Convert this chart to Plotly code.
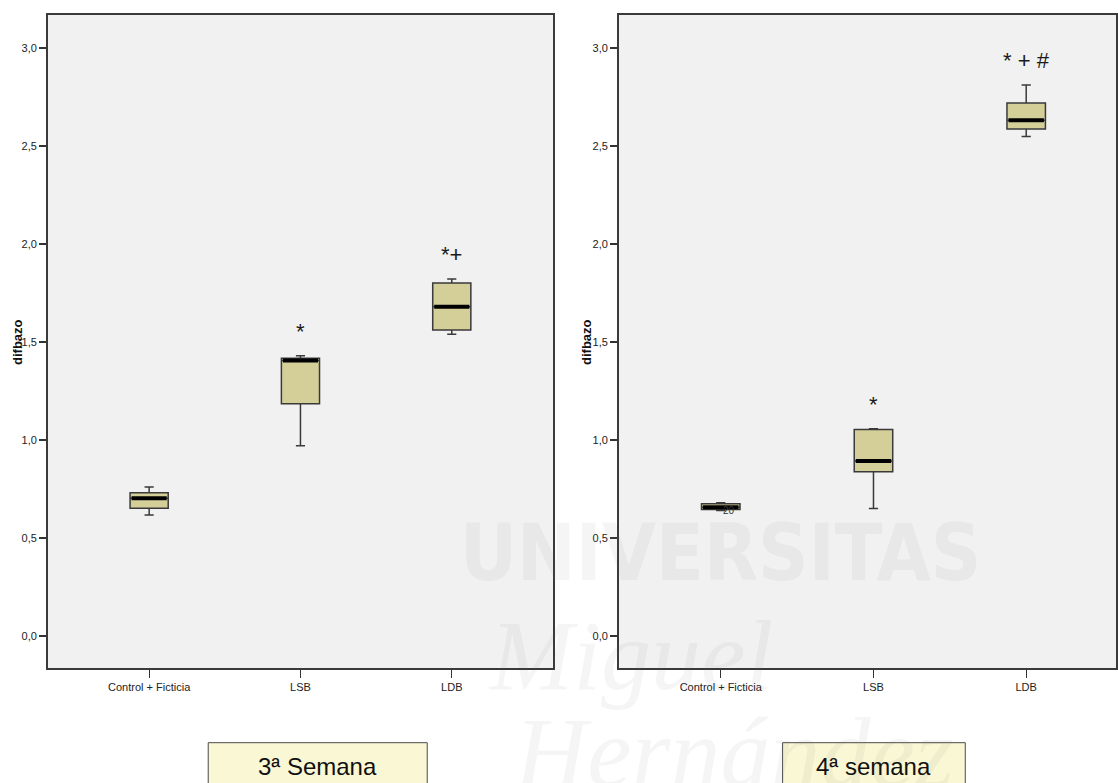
import plotly.graph_objects as go

# Groups on the horizontal axis
categories = ["Control + Ficticia", "LSB", "LDB"]

# 3ª semana: five-number summaries of difbazo per group
w3_low = [0.617, 0.971, 1.539]
w3_q1 = [0.652, 1.185, 1.561]
w3_med = [0.703, 1.405, 1.680]
w3_q3 = [0.731, 1.417, 1.801]
w3_high = [0.760, 1.430, 1.821]
w3_marks = ["", "*", "*+"]

# 4ª semana: five-number summaries of difbazo per group
w4_low = [0.640, 0.651, 2.548]
w4_q1 = [0.645, 0.838, 2.587]
w4_med = [0.657, 0.893, 2.631]
w4_q3 = [0.675, 1.054, 2.719]
w4_high = [0.680, 1.058, 2.811]
w4_marks = ["", "*", "* + #"]

# Case label shown next to the control box in week 4
w4_case_label = "20"
w4_case_value = 0.639

y_ticks = [0.0, 0.5, 1.0, 1.5, 2.0, 2.5, 3.0]

W, H = 1118, 783
BOX_W = 0.252
BOX_FILL = "#d4cf98"
EDGE = "#3a3a3a"
PLOT_BG = "#f0f1f0"
TICK_FONT = dict(family="Liberation Sans Narrow, Arial Narrow, Liberation Sans, Arial, sans-serif",
                 size=11, color="#222222")


def px(v):
    return v / W


def py(v):
    return 1 - v / H


fig = go.Figure()

panels = [
    dict(xa="x", ya="y", low=w3_low, q1=w3_q1, med=w3_med, q3=w3_q3, high=w3_high,
         marks=w3_marks),
    dict(xa="x2", ya="y2", low=w4_low, q1=w4_q1, med=w4_med, q3=w4_q3, high=w4_high,
         marks=w4_marks),
]

for p in panels:
    pos = list(range(len(categories)))
    fig.add_trace(go.Box(
        x=pos, q1=p["q1"], median=p["med"], q3=p["q3"],
        lowerfence=p["low"], upperfence=p["high"],
        width=BOX_W, whiskerwidth=0.24,
        fillcolor=BOX_FILL, line=dict(color=EDGE, width=1.5),
        boxpoints=False, hoverinfo="skip", showlegend=False,
        xaxis=p["xa"], yaxis=p["ya"],
    ))
    # heavy median bars drawn on top of each box
    mx, my = [], []
    for i, m in enumerate(p["med"]):
        mx += [i - BOX_W / 2 + 0.01, i + BOX_W / 2 - 0.01, None]
        my += [m, m, None]
    fig.add_trace(go.Scatter(
        x=mx, y=my, mode="lines", line=dict(color="#000000", width=4),
        hoverinfo="skip", showlegend=False, xaxis=p["xa"], yaxis=p["ya"],
    ))
    # significance marks above the upper whiskers
    for i, txt in enumerate(p["marks"]):
        if not txt:
            continue
        fig.add_annotation(
            x=i, y=p["high"][i] + 0.05, xref=p["xa"], yref=p["ya"],
            text=txt, showarrow=False, xanchor="center", yanchor="bottom",
            font=dict(family="Liberation Sans, Arial, sans-serif", size=22, color="#1a1a1a"),
        )

fig.add_annotation(
    x=0, y=w4_case_value, xref="x2", yref="y2", xshift=8,
    text=w4_case_label, showarrow=False, xanchor="center", yanchor="middle",
    font=dict(family="Liberation Sans Narrow, Arial Narrow, Liberation Sans, sans-serif",
              size=10, color="#333333"),
)

# axis geometry (pixel edges of each frame)
left_dom = [px(48), px(554)]
right_dom = [px(620), 1.0]
y_dom = [py(668), py(15)]
y_range = [-0.163, 3.168]

common_x = dict(
    tickmode="array", tickvals=[0, 1, 2], ticktext=categories,
    ticks="outside", ticklen=8, tickwidth=1.2, tickcolor="#333333",
    showline=True, mirror=True, linecolor="#3a3a3a", linewidth=1.6,
    showgrid=False, zeroline=False, tickfont=TICK_FONT, fixedrange=True,
)
common_y = dict(
    range=y_range, tickmode="array", tickvals=y_ticks, tickformat=".1f",
    ticks="outside", ticklen=7, tickwidth=1.5, tickcolor="#333333",
    showline=True, mirror=True, linecolor="#3a3a3a", linewidth=1.6,
    showgrid=False, zeroline=False, tickfont=TICK_FONT, fixedrange=True,
)

fig.update_layout(
    width=W, height=H,
    margin=dict(l=0, r=0, t=0, b=0),
    paper_bgcolor="white", plot_bgcolor=PLOT_BG,
    separators=",.",
    xaxis=dict(domain=left_dom, range=[-0.669, 2.669], anchor="y", **common_x),
    yaxis=dict(domain=y_dom, anchor="x", **common_y),
    xaxis2=dict(domain=right_dom, range=[-0.667, 2.588], anchor="y2", **common_x),
    yaxis2=dict(domain=y_dom, anchor="x2", **common_y),
)

# vertical axis titles
for xpix in (17, 587):
    fig.add_annotation(
        x=px(xpix), y=py(342), xref="paper", yref="paper", text="<b>difbazo</b>",
        textangle=-90, showarrow=False, xanchor="center", yanchor="middle",
        font=dict(family="Liberation Sans, Arial, sans-serif", size=13, color="#111111"),
    )

# faint university watermark
WM = "rgba(110,110,110,0.07)"
watermark = [
    ("<b>UNIVERSITAS</b>", 722, 553, "Liberation Sans Narrow, DejaVu Sans Condensed, sans-serif", 78),
    ("<i>Miguel</i>", 632, 655, "Liberation Serif, serif", 100),
    ("<i>Hernández</i>", 735, 752, "Liberation Serif, serif", 100),
]
for text, xc, yc, fam, size in watermark:
    fig.add_annotation(x=px(xc), y=py(yc), xref="paper", yref="paper", text=text,
                       showarrow=False, xanchor="center", yanchor="middle",
                       font=dict(family=fam, size=size, color=WM))

# week captions in boxed labels under each panel
captions = [("3ª Semana", 208.6, 428.0), ("4ª semana", 784.0, 967.0)]
for text, x0, x1 in captions:
    fig.add_shape(type="rect", xref="paper", yref="paper",
                  x0=px(x0), x1=px(x1), y0=-0.05, y1=py(742.7),
                  fillcolor="rgba(250,246,208,0.92)", line=dict(color="#4a4a4a", width=1))
    fig.add_annotation(x=px((x0 + x1) / 2), y=py(766), xref="paper", yref="paper",
                       text=text, showarrow=False, xanchor="center", yanchor="middle",
                       font=dict(family="Liberation Sans, Arial, sans-serif", size=24, color="#111111"))

fig.write_html("out.html")
